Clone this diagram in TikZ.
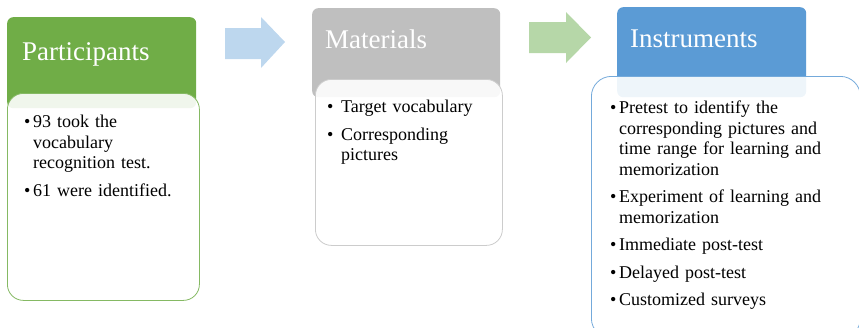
\documentclass[tikz,border=0pt]{standalone}
\usepackage{fontspec}
\setmainfont{Liberation Serif}
\usepackage{tikz}

\definecolor{partgreen}{HTML}{70AD47}
\definecolor{matgrey}{HTML}{BFBFBF}
\definecolor{instblue}{HTML}{5B9BD5}
\definecolor{arrowblue}{HTML}{BDD7EE}
\definecolor{arrowgreen}{HTML}{B6D7A8}

\newcommand{\bitem}[2][9pt]{\hangindent=#1\hangafter=1\noindent\makebox[#1][l]{\textbullet}#2\par\vskip 7pt}

\tikzset{
  head/.style={rounded corners=6pt, anchor=north west, inner sep=0pt},
  body/.style={rounded corners=16pt, fill=white, fill opacity=0.9, line width=0.8pt, anchor=north west, inner sep=0pt},
  title/.style={anchor=base west, text=white, inner sep=0pt, font=\fontsize{27}{30}\selectfont},
  list/.style={anchor=north west, inner sep=0pt, font=\fontsize{18}{20.5}\selectfont\raggedright}
}

\begin{document}
\begin{tikzpicture}[x=1pt, y=-1pt]

\useasboundingbox (0,0) rectangle (859,327);
\clip (0,0) rectangle (859,327);

% block arrows
\fill[arrowblue] (225,28) -- (261,28) -- (261,17) -- (285,42) -- (261,68) -- (261,59) -- (225,59) -- cycle;
\fill[arrowgreen] (529,22) -- (566,22) -- (566,12) -- (591,37.5) -- (566,63) -- (566,53) -- (529,53) -- cycle;

% Participants
\node[head, fill=partgreen, minimum width=189pt, minimum height=91pt] (parthead) at (7,17) {};
\node[body, draw=partgreen!85, minimum width=192pt, minimum height=207pt] (partbody) at (7,93) {};
\node[title] (parttitle) at (22,60) {Participants};
\node[list, text width=172pt] (partlist) at (24,115) {%
  \bitem{93 took the\newline vocabulary\newline recognition test.}
  \bitem{61 were identified.}};

% Materials
\node[head, fill=matgrey, minimum width=188pt, minimum height=89pt] (mathead) at (312,8) {};
\node[body, draw=matgrey!80, minimum width=187pt, minimum height=166pt] (matbody) at (315,79) {};
\node[title] (mattitle) at (325,48) {Materials};
\node[list, text width=172pt] (matlist) at (327,100) {%
  \bitem[14pt]{Target vocabulary}
  \bitem[14pt]{Corresponding\newline pictures}};

% Instruments
\node[head, fill=instblue, minimum width=189pt, minimum height=90pt] (insthead) at (617,7) {};
\node[body, rounded corners=20pt, draw=instblue!85, minimum width=269pt, minimum height=262pt] (instbody) at (591,76) {};
\node[title] (insttitle) at (630,47) {Instruments};
\node[list, text width=245pt] (instlist) at (610,101) {%
  \bitem{Pretest to identify the\newline corresponding pictures and\newline time range for learning and\newline memorization}
  \bitem{Experiment of learning and\newline memorization}
  \bitem{Immediate post-test}
  \bitem{Delayed post-test}
  \bitem{Customized surveys}};

\end{tikzpicture}
\end{document}
